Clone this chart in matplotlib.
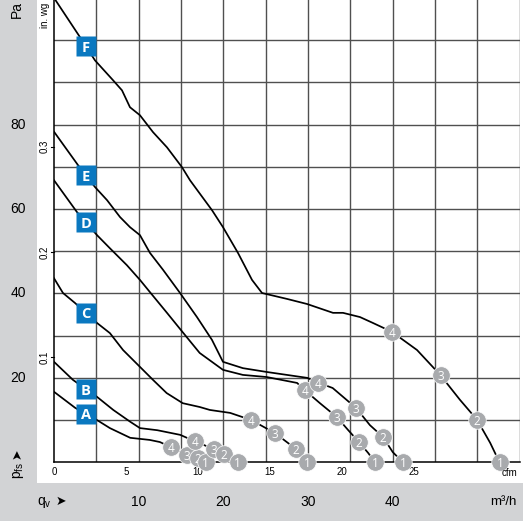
import numpy as np
import matplotlib
matplotlib.use("Agg")
import matplotlib.pyplot as plt
from matplotlib.patches import Rectangle
from matplotlib.transforms import blended_transform_factory

# ---------------- data (q_v in m³/h, p_fs in Pa) ----------------
q_A = [0, 2.5, 5.08, 6.6, 9.0, 11.3, 12.5, 13.8, 15.7, 17.0, 17.9]
p_A = [16.7, 12.9, 10.0, 8.1, 5.8, 5.3, 4.8, 3.6, 1.7, 1.0, 0]

q_B = [0, 2.25, 5.08, 7.0, 9.0, 10.15, 12.2, 14.9, 16.6, 18.9, 20.1, 21.7]
p_B = [23.8, 19.5, 15.5, 12.4, 9.6, 8.1, 7.6, 6.5, 5.0, 3.1, 2.0, 0]

q_C = [0, 1.06, 2.5, 5.08, 6.6, 8.15, 10.15, 11.7, 13.3, 15.2, 17.2, 18.4,
       20.8, 23.3, 26.1, 28.6, 29.9]
p_C = [43.6, 40.1, 37.7, 33.0, 30.6, 26.6, 22.6, 19.5, 16.4, 14.0, 13.1, 12.4,
       11.7, 10.0, 6.9, 3.1, 0]

q_D = [0, 2.7, 5.08, 6.6, 8.6, 10.15, 11.33, 13.34, 15.2, 17.2, 19.95, 22.3,
       25.1, 28.7, 29.6, 31.4, 33.4, 34.7, 36.0, 37.1, 37.9]
p_D = [66.8, 59.3, 53.8, 50.7, 46.7, 43.2, 40.3, 35.4, 30.8, 25.9, 21.9, 20.7,
       20.2, 18.8, 17.1, 14.0, 10.7, 7.7, 4.8, 2.2, 0]

q_E = [0, 2.83, 4.84, 6.26, 7.79, 8.97, 10.15, 11.33, 12.87, 14.88, 16.88,
       18.65, 19.95, 22.3, 25.1, 29.9, 31.3, 32.9, 35.65, 37.3, 38.84, 40.0, 41.2]
p_E = [78.3, 70.4, 65.2, 62.1, 58.1, 55.7, 53.8, 49.6, 45.6, 40.1, 34.4,
       29.0, 23.8, 22.3, 21.4, 20.0, 18.8, 17.6, 12.9, 8.8, 6.0, 2.4, 0]

q_F = [0, 3.07, 4.84, 6.97, 8.03, 8.97, 10.15, 11.69, 13.34, 15.11, 16.06,
       18.66, 19.95, 21.72, 23.38, 24.56, 27.51, 29.87, 32.94, 34.12, 36.13,
       37.66, 39.9, 42.86, 45.6, 47.93, 49.94, 51.5, 52.6]
p_F = [110.0, 100.7, 95.2, 90.5, 88.1, 84.1, 82.2, 78.2, 74.6, 69.9, 66.8,
       59.7, 55.7, 49.6, 43.2, 40.1, 38.7, 37.5, 35.4, 35.4, 34.4,
       33.0, 30.9, 26.6, 20.7, 14.8, 10.1, 4.6, 0]

# operating points 4, 3, 2, 1 on each curve
op_q_A = [13.8, 15.7, 17.0, 17.9]
op_p_A = [3.6, 1.7, 1.0, 0.0]
op_q_B = [16.6, 18.9, 20.1, 21.7]
op_p_B = [5.0, 3.1, 2.0, 0.0]
op_q_C = [23.3, 26.1, 28.6, 29.9]
op_p_C = [10.0, 6.9, 3.1, 0.0]
op_q_D = [29.6, 33.4, 36.0, 37.9]
op_p_D = [17.1, 10.7, 4.8, 0.0]
op_q_E = [31.2, 35.65, 38.84, 41.2]
op_p_E = [18.8, 12.9, 6.0, 0.0]
op_q_F = [39.9, 45.7, 49.9, 52.7]
op_p_F = [30.8, 20.7, 10.0, 0.0]
op_labels = ['4', '3', '2', '1']

curve_labels = ['A', 'B', 'C', 'D', 'E', 'F']
label_q = 3.78

pa_ticks = [20, 40, 60, 80]
m3h_ticks = [10, 20, 30, 40]
cfm_ticks = [0, 5, 10, 15, 20, 25]
inwg_ticks = [0.1, 0.2, 0.3]
CFM_TO_M3H = 1.699
INWG_TO_PA = 249.09

curves = [(q_A, p_A, op_q_A, op_p_A), (q_B, p_B, op_q_B, op_p_B),
          (q_C, p_C, op_q_C, op_p_C), (q_D, p_D, op_q_D, op_p_D),
          (q_E, p_E, op_q_E, op_p_E), (q_F, p_F, op_q_F, op_p_F)]

# ---------------- figure ----------------
W, H, DPI = 523, 521, 100
GRAY_BG = '#d2d3d5'
BLUE = '#0a78c0'
CIRCLE = '#a8aaad'
FONT = ['Liberation Sans', 'DejaVu Sans']

fig = plt.figure(figsize=(W / DPI, H / DPI), dpi=DPI, facecolor=GRAY_BG)
fig.patches.append(Rectangle((37 / W, 1 - 483 / H), (W - 37) / W, 483 / H,
                             transform=fig.transFigure, facecolor='white',
                             edgecolor='none', zorder=-10))

ax = fig.add_axes([54 / W, 1 - 462.3 / H, 466 / W, 462.3 / H])
ax.set_zorder(1)
ax.set_xlim(0, 55.02)
ax.set_ylim(0, 109.5)
ax.set_facecolor('white')
for s in ['top', 'right']:
    ax.spines[s].set_visible(False)
for s in ['left', 'bottom']:
    ax.spines[s].set_color('black')
    ax.spines[s].set_linewidth(1.1)
ax.set_xticks(np.arange(5, 56, 5))
ax.set_yticks(np.arange(10, 101, 10))
ax.tick_params(length=0, labelbottom=False, labelleft=False)
ax.grid(True, color='#505050', lw=1.0)
ax.set_axisbelow(True)

z = 10
for (q, p, oq, op), name in zip(curves, curve_labels):
    ax.plot(q, p, color='black', lw=1.25, solid_joinstyle='round', zorder=3)
    pl = np.interp(label_q, q, p)
    ax.plot([label_q], [pl], marker='s', ms=14.4, color=BLUE, mec='none', zorder=4)
    ax.text(label_q, pl, name, color='white', fontsize=10.5, fontweight='bold',
            family=['Open Sans', 'DejaVu Sans'], ha='center', va='center_baseline', zorder=5)
    for xq, yp, lab in zip(oq, op, op_labels):
        ax.plot([xq], [yp], marker='o', ms=12.6, color=CIRCLE, mec='white', mew=0.5,
                clip_on=False, zorder=z)
        ax.text(xq, yp, lab, color='white', fontsize=8.5, family=['Open Sans', 'DejaVu Sans'],
                ha='center', va='center_baseline', zorder=z + 1, clip_on=False)
        z += 2

# small ticks for in.wg
for v in inwg_ticks:
    ax.plot([-0.35, 0], [v * INWG_TO_PA] * 2, color='black', lw=0.8, clip_on=False)

# ---------------- texts ----------------
tr_fx_dy = blended_transform_factory(fig.transFigure, ax.transData)
tr_dx_fy = blended_transform_factory(ax.transData, fig.transFigure)

for v in inwg_ticks:
    ax.text(45 / W, v * INWG_TO_PA, f'{v:.1f}', transform=tr_fx_dy, rotation=90,
            ha='center', va='center', fontsize=7, family=FONT)
fig.text(45 / W, 1 - 15 / H, 'in. wg', rotation=90, ha='center', va='center',
         fontsize=7, family=FONT)

for v in pa_ticks:
    ax.text(18 / W, v, str(v), transform=tr_fx_dy, ha='center', va='center',
            fontsize=10, family=FONT)
fig.text(17 / W, 1 - 9 / H, 'Pa', rotation=90, ha='center', va='center',
         fontsize=10, family=FONT)

for c in cfm_ticks:
    ax.text(c * CFM_TO_M3H, 1 - 472 / H, str(c), transform=tr_dx_fy, ha='center',
            va='center', fontsize=7, family=FONT)
fig.text(509 / W, 1 - 473 / H, 'cfm', ha='center', va='center', fontsize=7, family=FONT)

for v in m3h_ticks:
    ax.text(v, 1 - 502 / H, str(v), transform=tr_dx_fy, ha='center', va='center',
            fontsize=10, family=FONT)
fig.text(503 / W, 1 - 502 / H, 'm³/h', ha='center', va='center', fontsize=9.5, family=FONT)

fig.text(37 / W, 1 - 502 / H, r'$\mathregular{q_v}$', ha='left', va='center',
         fontsize=10, family=FONT)
fig.text(61 / W, 1 - 501 / H, '➤', ha='center', va='center', fontsize=9,
         family=['DejaVu Sans'])
fig.text(18 / W, 1 - 470 / H, r'$\mathregular{p_{fs}}$', rotation=90, ha='center',
         va='center', fontsize=10, family=FONT)
fig.text(17 / W, 1 - 454 / H, '➤', rotation=90, ha='center', va='center', fontsize=9,
         family=['DejaVu Sans'])

fig.savefig('out.png', dpi=DPI, facecolor=GRAY_BG)
